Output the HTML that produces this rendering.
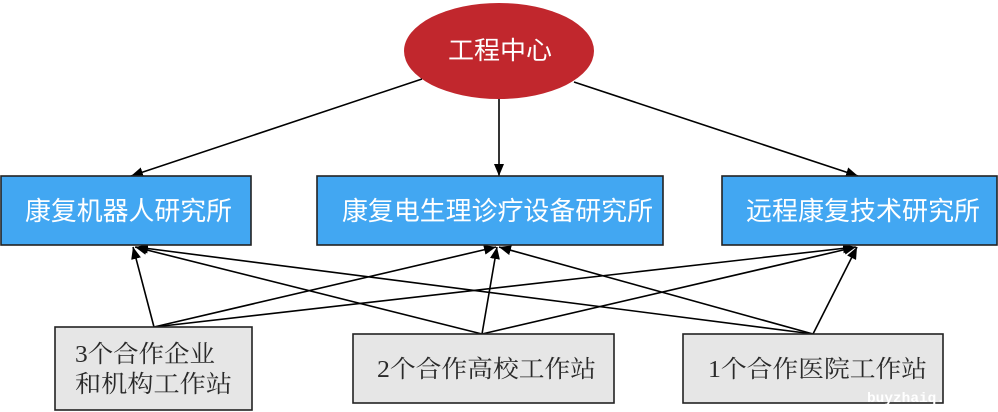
<!DOCTYPE html>
<html>
<head>
<meta charset="utf-8">
<style>
html,body{margin:0;padding:0;background:#fff;}
svg{display:block;}
.sans{font-family:"Liberation Sans","Noto Sans CJK SC",sans-serif;}
.serif{font-family:"Liberation Serif","Noto Serif CJK SC",serif;}
</style>
</head>
<body>
<svg width="998" height="412" viewBox="0 0 998 412" xmlns="http://www.w3.org/2000/svg">
  <defs>
    <marker id="ah" viewBox="0 0 12 10" refX="12" refY="5" markerWidth="12" markerHeight="10" markerUnits="userSpaceOnUse" orient="auto">
      <path d="M0,0 L12,5 L0,10 z" fill="#000"/>
    </marker>
  </defs>

  <!-- top ellipse -->
  <ellipse cx="499" cy="51" rx="95" ry="48" fill="#C1272D"/>
  <text x="448" y="59" class="sans" font-size="25" fill="#fff" textLength="104" lengthAdjust="spacingAndGlyphs">工程中心</text>

  <!-- top connectors -->
  <g stroke="#000" stroke-width="1.6" fill="none">
    <line x1="422" y1="79" x2="131" y2="176" marker-end="url(#ah)"/>
    <line x1="499" y1="99" x2="499" y2="176" marker-end="url(#ah)"/>
    <line x1="574" y1="82" x2="858" y2="176" marker-end="url(#ah)"/>
  </g>

  <!-- bottom connectors -->
  <g stroke="#000" stroke-width="1.6" fill="none">
    <line x1="154" y1="327" x2="133" y2="247" marker-end="url(#ah)"/>
    <line x1="154" y1="327" x2="496" y2="247" marker-end="url(#ah)"/>
    <line x1="154" y1="327" x2="855" y2="247" marker-end="url(#ah)"/>
    <line x1="482" y1="334" x2="135" y2="247" marker-end="url(#ah)"/>
    <line x1="482" y1="334" x2="497" y2="247" marker-end="url(#ah)"/>
    <line x1="482" y1="334" x2="856" y2="247" marker-end="url(#ah)"/>
    <line x1="813" y1="334" x2="136" y2="247" marker-end="url(#ah)"/>
    <line x1="813" y1="334" x2="499" y2="247" marker-end="url(#ah)"/>
    <line x1="813" y1="334" x2="857" y2="247" marker-end="url(#ah)"/>
  </g>

  <!-- blue boxes -->
  <g fill="#42A7F2" stroke="#222" stroke-width="1.6">
    <rect x="1" y="176" width="250" height="69"/>
    <rect x="317" y="176" width="346" height="69"/>
    <rect x="722" y="176" width="275" height="69"/>
  </g>
  <g class="sans" font-size="26" fill="#fff">
    <text x="25" y="220" textLength="207" lengthAdjust="spacingAndGlyphs">康复机器人研究所</text>
    <text x="342" y="220" textLength="311" lengthAdjust="spacingAndGlyphs">康复电生理诊疗设备研究所</text>
    <text x="746" y="220" textLength="234" lengthAdjust="spacingAndGlyphs">远程康复技术研究所</text>
  </g>

  <!-- gray boxes -->
  <g fill="#E6E6E6" stroke="#222" stroke-width="1.6">
    <rect x="55" y="327" width="197" height="83"/>
    <rect x="353" y="334" width="261" height="69"/>
    <rect x="683" y="334" width="260" height="69"/>
  </g>
  <g class="serif" font-size="24" fill="#2a2a2a">
    <text x="75" y="362" textLength="140" lengthAdjust="spacingAndGlyphs">3个合作企业</text>
    <text x="75" y="392" textLength="157" lengthAdjust="spacingAndGlyphs">和机构工作站</text>
    <text x="377" y="377" textLength="219" lengthAdjust="spacingAndGlyphs">2个合作高校工作站</text>
    <text x="708" y="377" textLength="219" lengthAdjust="spacingAndGlyphs">1个合作医院工作站</text>
  </g>

  <!-- watermark -->
  <text x="867" y="402" font-family="Liberation Mono, monospace" font-size="14" font-weight="bold" fill="#fff" textLength="78" lengthAdjust="spacingAndGlyphs">buyzhaiq.</text>
</svg>
</body>
</html>
